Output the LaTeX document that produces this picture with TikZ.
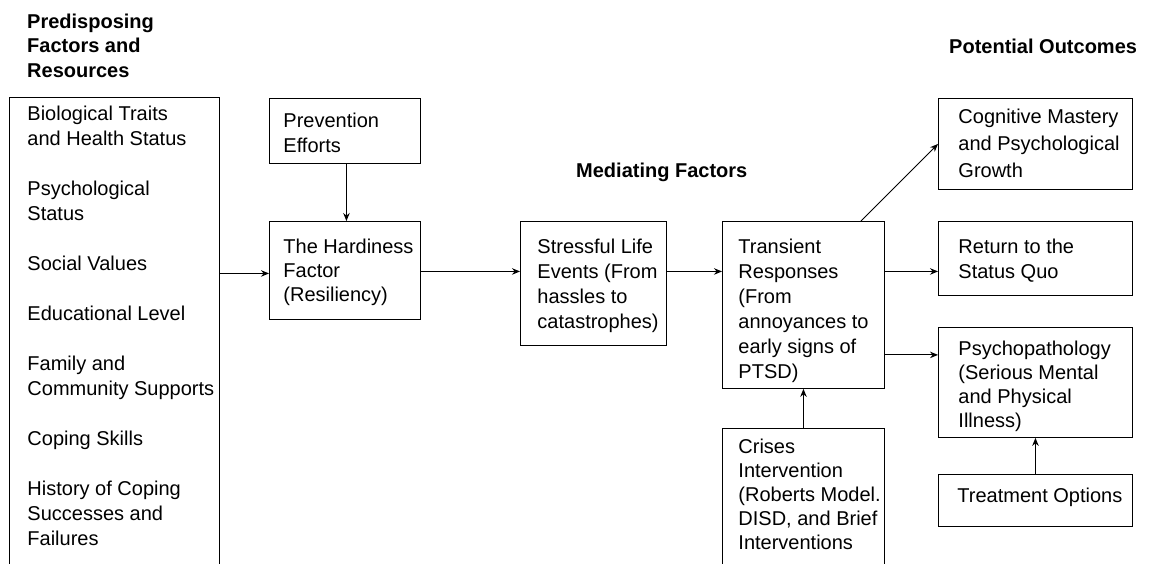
\documentclass[tikz,border=0pt]{standalone}
\usepackage{fontspec}
\setmainfont{Liberation Sans}
\usetikzlibrary{arrows.meta,calc}
% width, height, left pad, first baseline, baselineskip, text
\newcommand{\bxt}[6]{\parbox[t][#2][t]{#1}{\fontsize{20}{#5}\selectfont\raggedright\leftskip=#3\relax\rule{0pt}{#4}#6}}
\tikzset{
  box/.style={draw=black, line width=0.9pt, inner sep=0pt, anchor=north west},
  arr/.style={-{Stealth[length=8pt,width=6.5pt]}, line width=0.9pt},
  ttl/.style={inner sep=0pt, anchor=base west, font=\fontsize{20}{24.5}\selectfont\bfseries}
}
\begin{document}
\begin{tikzpicture}[x=1pt,y=-1pt]
\useasboundingbox (0,0) rectangle (1152,563);
\clip (0,0) rectangle (1152,563);
% titles
\node[ttl] (tpre) at (27,28) {\parbox[t]{200pt}{Predisposing\\Factors and\\Resources}};
\node[ttl] (tmed) at (576,177) {Mediating Factors};
\node[ttl] (tout) at (949,53) {Potential Outcomes};
% boxes
\node[box] (pre) at (9,97) {\bxt{210pt}{475pt}{18pt}{23pt}{25pt}{Biological Traits\\and Health Status\\[25pt]Psychological\\Status\\[25pt]Social Values\\[25pt]Educational Level\\[25pt]Family and\\Community Supports\\[25pt]Coping Skills\\[25pt]History of Coping\\Successes and\\Failures}};
\node[box] (prev) at (269,98) {\bxt{151pt}{65pt}{14pt}{29pt}{25pt}{Prevention\\Efforts}};
\node[box] (hard) at (269,221) {\bxt{151pt}{98pt}{14pt}{32pt}{24pt}{The Hardiness\\Factor\\(Resiliency)}};
\node[box] (stress) at (520,221) {\bxt{146pt}{124pt}{17pt}{32pt}{25pt}{Stressful Life\\Events (From\\hassles to\\catastrophes)}};
\node[box] (trans) at (722,221) {\bxt{162pt}{167pt}{16pt}{32pt}{25pt}{Transient\\Responses\\(From\\annoyances to\\early signs of\\PTSD)}};
\node[box] (cris) at (722,428) {\bxt{162pt}{145pt}{16pt}{25pt}{24pt}{Crises\\Intervention\\(Roberts Model.\\DISD, and Brief\\Interventions}};
\node[box] (cog) at (938,98) {\bxt{194pt}{91pt}{20pt}{25pt}{27pt}{Cognitive Mastery\\and Psychological\\Growth}};
\node[box] (ret) at (938,221) {\bxt{194pt}{74pt}{20pt}{32pt}{25pt}{Return to the\\Status Quo}};
\node[box] (psy) at (938,327) {\bxt{194pt}{110pt}{20pt}{28pt}{24pt}{Psychopathology\\(Serious Mental\\and Physical\\Illness)}};
\node[box] (treat) at (938,474) {\bxt{194pt}{52pt}{19pt}{28pt}{25pt}{Treatment Options}};
% connectors
\draw[arr] ([yshift=-3pt]hard.west -| pre.east) -- ([yshift=-3pt]hard.west);
\draw[arr] ([xshift=1.5pt]prev.south) -- ([xshift=1.5pt]prev.south |- hard.north);
\draw[arr] ([yshift=-1pt]hard.east) -- ([yshift=-1pt]hard.east -| stress.west);
\draw[arr] ([yshift=-1pt]hard.east -| stress.east) -- ([yshift=-1pt]hard.east -| trans.west);
\draw[arr] ([yshift=-1pt]hard.east -| trans.east) -- ([yshift=-1pt]hard.east -| ret.west);
\draw[arr] ([yshift=34pt]trans.south east) -- ([yshift=34pt]trans.south east -| psy.west);
\draw[arr] ([xshift=-24pt]trans.north east) -- (cog.west);
\draw[arr] (cris.north) -- (cris.north |- trans.south);
\draw[arr] (treat.north) -- (psy.south);
\end{tikzpicture}
\end{document}
